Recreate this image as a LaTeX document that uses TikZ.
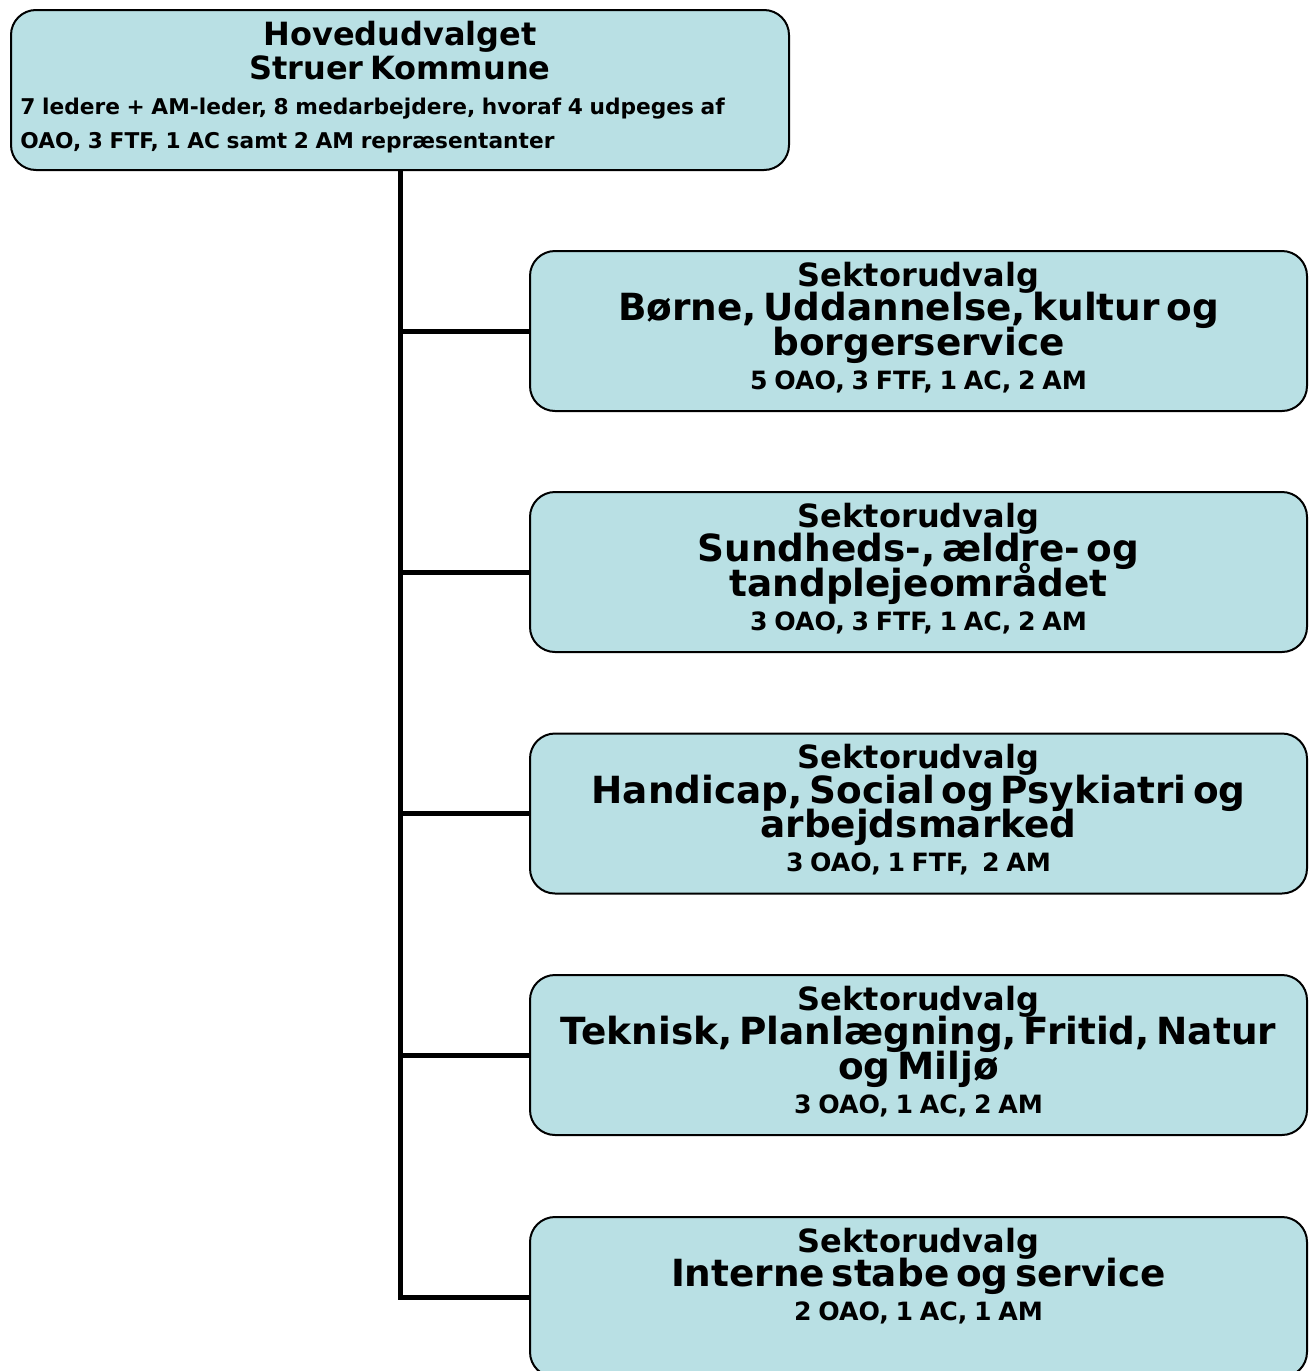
\documentclass[tikz,border=0pt]{standalone}
\usepackage{fontspec}
\setmainfont{DejaVu Sans}
\usetikzlibrary{positioning}
\definecolor{boxfill}{RGB}{185,224,228}
\newcommand{\headfont}{\fontsize{16}{17.25}\selectfont\lineskiplimit=-\maxdimen}
\newcommand{\namefont}{\fontsize{18.7}{17.25}\selectfont\lineskiplimit=-\maxdimen}
\newcommand{\countfont}{\fontsize{12.6}{17}\selectfont\lineskiplimit=-\maxdimen}
\newcommand{\notefont}{\fontsize{10.85}{17}\selectfont\lineskiplimit=-\maxdimen}
\tikzset{
  box/.style={draw,line width=1pt,fill=boxfill,rounded corners=12.5pt,
    minimum width=388.5pt,minimum height=80pt,inner sep=0pt},
  boxtext/.style={anchor=north,inner sep=0pt,text width=380pt,align=center,
    font=\bfseries},
  conn/.style={line width=2.5pt}
}

\begin{document}
\begin{tikzpicture}[x=0.5pt,y=-0.5pt]
\clip (0,0) rectangle (1308,1371);
\node[box,minimum width=389pt] (top) at (400,90) {};
\node[box] (s1) at (918.5,331) {};
\node[box] (s2) at (918.5,572) {};
\node[box] (s3) at (918.5,813.5) {};
\node[box] (s4) at (918.5,1055) {};
\node[box] (s5) at (918.5,1297) {};
\node[boxtext] (toptitle) at ([yshift=-5.8pt]top.north)
  {\headfont Hovedudvalget\\Struer Kommune\par};
\node[boxtext,anchor=north west,align=left] (topnote) at ([xshift=5pt,yshift=-44.5pt]top.north west)
  {\notefont 7 ledere + AM-leder, 8 medarbejdere, hvoraf 4 udpeges af\\OAO, 3 FTF, 1 AC samt 2 AM repræsentanter\par};
\node[boxtext] (s1text) at ([yshift=-5.8pt]s1.north)
  {\headfont Sektorudvalg\\\namefont Børne, Uddannelse, kultur og\\borgerservice\\\countfont 5 OAO, 3 FTF, 1 AC, 2 AM\par};
\node[boxtext] (s2text) at ([yshift=-5.8pt]s2.north)
  {\headfont Sektorudvalg\\\namefont Sundheds-, ældre- og\\tandplejeområdet\\\countfont 3 OAO, 3 FTF, 1 AC, 2 AM\par};
\node[boxtext] (s3text) at ([yshift=-5.8pt]s3.north)
  {\headfont Sektorudvalg\\\namefont Handicap, Social og Psykiatri og\\arbejdsmarked\\\countfont 3 OAO, 1 FTF, \ 2 AM\par};
\node[boxtext] (s4text) at ([yshift=-5.8pt]s4.north)
  {\headfont Sektorudvalg\\\namefont Teknisk, Planlægning, Fritid, Natur\\og Miljø\\\countfont 3 OAO, 1 AC, 2 AM\par};
\node[boxtext] (s5text) at ([yshift=-5.8pt]s5.north)
  {\headfont Sektorudvalg\\\namefont Interne stabe og service\\\countfont 2 OAO, 1 AC, 1 AM\par};
\draw[conn] (top.south) |- (s5.west);
\draw[conn] (top.south |- s1.west) -- (s1.west);
\draw[conn] (top.south |- s2.west) -- (s2.west);
\draw[conn] (top.south |- s3.west) -- (s3.west);
\draw[conn] (top.south |- s4.west) -- (s4.west);
\end{tikzpicture}
\end{document}
